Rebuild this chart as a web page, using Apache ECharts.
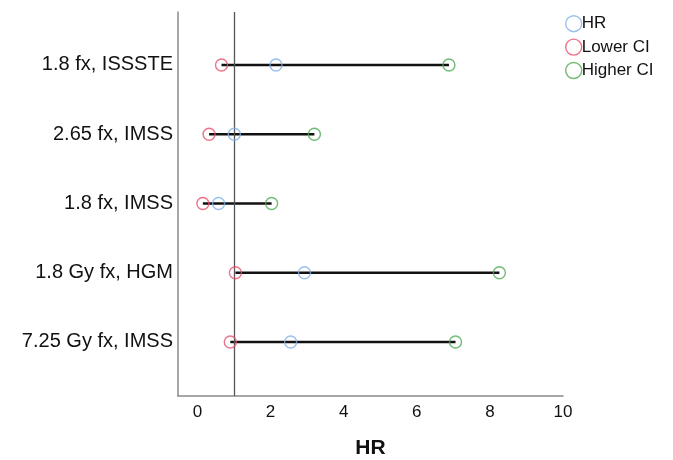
<!DOCTYPE html>
<html><head><meta charset="utf-8">
<script src="https://cdn.jsdelivr.net/npm/echarts@6/dist/echarts.min.js"></script>
<style>html,body{margin:0;padding:0;background:#fff}#c{width:673px;height:460px}</style>
</head><body><div id="c"></div>
<script>
const categories = ['1.8 fx, ISSSTE','2.65 fx, IMSS','1.8 fx, IMSS','1.8 Gy fx, HGM','7.25 Gy fx, IMSS'];
const hr = [2.15, 1.01, 0.58, 2.93, 2.55];
const lowerCI = [0.66, 0.32, 0.15, 1.04, 0.90];
const higherCI = [6.88, 3.20, 2.03, 8.26, 7.06];
const xTicks = [0, 2, 4, 6, 8, 10];
const rowPos = [1, 2, 3, 4, 5];

const C_HR = '#80b1eb', C_LO = '#e8506e', C_HI = '#4fab52';
const chart = echarts.init(document.getElementById('c'));
const font = 'Liberation Sans, Arial, sans-serif';
const pts = arr => arr.map((v, i) => [v, rowPos[i]]);
const sym = (name, color) => ({
  name, type: 'scatter', symbol: 'circle', symbolSize: 12, z: 5,
  itemStyle: { color: 'rgba(255,255,255,0)', borderColor: color, borderWidth: 1.4 },
  emphasis: { disabled: true }
});
chart.setOption({
  animation: false,
  textStyle: { fontFamily: font },
  grid: { left: 178, right: 110, top: 12, bottom: 64, outerBoundsMode: 'none', containLabel: false },
  legend: {
    left: 560, top: 10, orient: 'vertical', itemGap: 6, itemWidth: 16, itemHeight: 16,
    icon: 'circle', textStyle: { fontSize: 17, color: '#111', fontFamily: font, padding: [0,0,0,-5] },
    data: [
      { name: 'HR', itemStyle: { color: '#fff', borderColor: C_HR, borderWidth: 1.4 } },
      { name: 'Lower CI', itemStyle: { color: '#fff', borderColor: C_LO, borderWidth: 1.4 } },
      { name: 'Higher CI', itemStyle: { color: '#fff', borderColor: C_HI, borderWidth: 1.4 } }
    ]
  },
  xAxis: {
    type: 'value', min: -0.53, max: 10,
    name: 'HR', nameLocation: 'middle', nameGap: 42,
    nameTextStyle: { fontSize: 21, fontWeight: 'bold', color: '#111', fontFamily: font },
    axisLine: { onZero: false, lineStyle: { color: '#8a8a8a', width: 1.5 } },
    axisTick: { show: false },
    splitLine: { show: false },
    axisLabel: { customValues: xTicks, fontSize: 17, color: '#111', margin: 8, fontFamily: font }
  },
  yAxis: {
    type: 'value', inverse: true, min: 0.235, max: 5.78,
    axisLine: { show: true, onZero: false, lineStyle: { color: '#8a8a8a', width: 1.5 } },
    axisTick: { show: false },
    splitLine: { show: false },
    axisLabel: {
      customValues: rowPos, fontSize: 20, color: '#111', margin: 5, fontFamily: font,
      formatter: v => categories[Math.round(v) - 1] || ''
    }
  },
  series: [
    {
      name: 'ci', type: 'custom', z: 3,
      data: categories.map((c, i) => [lowerCI[i], higherCI[i], rowPos[i]]),
      renderItem: (params, api) => {
        const a = api.coord([api.value(0), api.value(2)]);
        const b = api.coord([api.value(1), api.value(2)]);
        return { type: 'line', shape: { x1: a[0], y1: a[1], x2: b[0], y2: b[1] },
          style: { stroke: '#111', lineWidth: 2.6 } };
      },
      markLine: {
        silent: true, symbol: 'none', label: { show: false },
        lineStyle: { color: '#555', width: 1.3, type: 'solid' },
        data: [{ xAxis: 1 }]
      }
    },
    Object.assign(sym('HR', C_HR), { data: pts(hr) }),
    Object.assign(sym('Lower CI', C_LO), { data: pts(lowerCI) }),
    Object.assign(sym('Higher CI', C_HI), { data: pts(higherCI) })
  ]
});
</script></body></html>
